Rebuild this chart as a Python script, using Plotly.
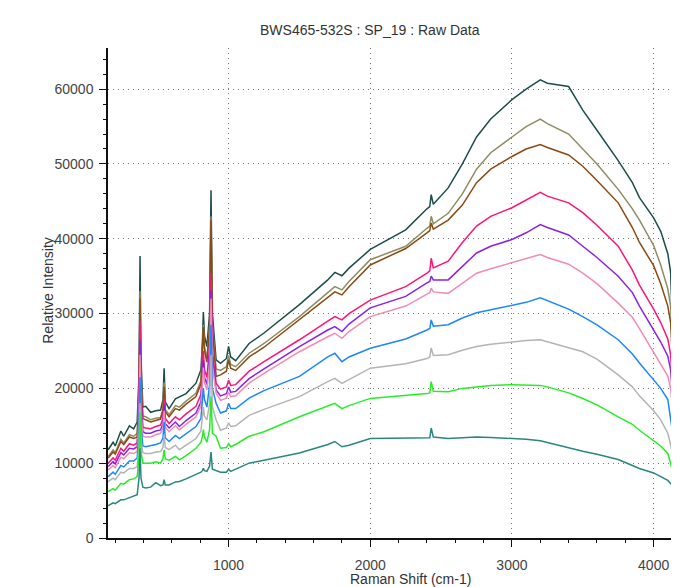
import plotly.graph_objects as go

# Raman shift positions (cm-1), shared by all spectra
raman_shift = [150, 185, 200, 240, 260, 300, 330, 355, 368, 375,
               382, 395, 415, 450, 486, 520, 537, 545, 553, 580,
               625, 653, 700, 770, 805, 815, 822, 830, 847, 866,
               876, 886, 912, 943, 985, 1000, 1015, 1050, 1145, 1250,
               1500, 1700, 1750, 1800, 1850, 2000, 2250, 2400, 2420, 2430,
               2445, 2550, 2650, 2750, 2850, 3000, 3100, 3200, 3250, 3400,
               3500, 3600, 3750, 3850, 3900, 4000, 4050, 4100, 4120, 4135,
               4150, 4179]

spec_dark_teal = [11800, 12800, 12300, 14300, 13600, 15000, 14600, 15500, 22000, 37700,
                  24000, 17500, 17600, 16800, 17000, 17100, 18500, 22700, 18200, 17300,
                  18600, 18900, 19300, 20700, 22500, 26000, 30200, 27000, 25600, 30000,
                  46500, 30000, 23800, 23350, 24000, 25600, 24200, 23700, 26000, 27400,
                  31200, 34500, 35500, 35050, 36070, 38570, 41200, 44000, 44300, 45900,
                  44600, 46800, 50000, 53600, 56000, 58600, 60000, 61250, 60800, 60350,
                  57200, 54500, 50450, 47500, 45500, 42800, 41000, 38000, 35500, 27000,
                  20000, 17500]

spec_olive = [10900, 11800, 11400, 13200, 12700, 13800, 13600, 14000, 20000, 33000,
              22000, 16300, 16200, 15800, 16000, 16100, 17300, 20800, 17200, 16500,
              17700, 17500, 18300, 19350, 21000, 24500, 28500, 25500, 24000, 28500,
              43000, 28500, 22600, 22400, 22900, 24400, 23200, 22900, 24700, 26000,
              29600, 32800, 33600, 33170, 34300, 37200, 39000, 41400, 41700, 43000,
              42000, 43400, 46000, 49300, 51500, 53600, 55000, 56000, 55400, 54000,
              52000, 50000, 46600, 44000, 42500, 39100, 36500, 33300, 31000, 24500,
              19000, 16500]

spec_brown = [10700, 11500, 11200, 12900, 12500, 13500, 13300, 13500, 19000, 32000,
              21000, 16000, 15800, 15500, 15700, 15900, 17000, 20200, 16900, 16200,
              17300, 17100, 17900, 18900, 20600, 24000, 28200, 25000, 23500, 28000,
              42500, 28000, 21600, 21800, 22300, 23800, 22700, 22400, 24200, 25500,
              29200, 32200, 32900, 32500, 33600, 36500, 38700, 40800, 41100, 42100,
              41300, 42500, 44500, 47500, 49300, 51000, 52000, 52600, 52200, 51200,
              49700, 47800, 44800, 41500, 39500, 36400, 34000, 31000, 28800, 23000,
              17500, 15500]

spec_crimson = [10000, 10700, 10400, 12000, 11600, 12600, 12400, 12700, 18000, 29000,
                19500, 14800, 14700, 14600, 14900, 15100, 16000, 18600, 16000, 15300,
                16200, 15800, 16600, 17600, 19200, 22000, 25000, 22500, 21500, 25500,
                35400, 25000, 20700, 19900, 20200, 21100, 20400, 20500, 22300, 23570,
                26500, 29000, 29600, 29150, 30000, 31800, 33600, 35400, 35700, 37400,
                36100, 37000, 39500, 41700, 43000, 44150, 45200, 46200, 45700, 44800,
                43500, 41800, 39000, 35800, 33800, 30600, 28800, 26600, 24500, 20000,
                15500, 14000]

spec_purple = [9550, 10200, 9900, 11400, 11100, 12000, 11900, 12200, 17000, 26500,
               18500, 14200, 14000, 14000, 14300, 14450, 15300, 17800, 15300, 14700,
               15500, 14900, 15700, 16700, 18200, 21000, 23800, 21500, 20500, 24500,
               33100, 24000, 19800, 19000, 19300, 20200, 19500, 19600, 21300, 22600,
               25580, 27800, 28260, 27600, 28600, 30760, 32300, 34100, 34300, 35000,
               34500, 34500, 36300, 38100, 39000, 39900, 40800, 41900, 41500, 40500,
               39000, 37500, 35000, 32800, 31000, 27900, 26200, 24300, 22500, 18500,
               14500, 13000]

spec_light_pink = [9100, 9700, 9400, 10800, 10600, 11400, 11300, 11550, 16000, 24500,
                   17000, 13600, 13500, 13500, 13800, 14000, 14800, 17000, 14800, 14200,
                   15000, 14450, 15200, 16200, 17600, 20200, 22800, 20800, 19800, 23500,
                   32000, 23000, 19350, 18400, 18700, 19500, 18900, 19000, 20700, 22000,
                   24900, 26900, 27370, 26700, 27600, 29600, 31000, 32600, 32800, 33400,
                   32900, 32700, 34000, 35400, 36000, 36800, 37300, 37900, 37500, 36600,
                   35400, 34000, 31400, 29500, 28000, 24800, 23300, 21650, 20000, 17000,
                   13800, 12500]

spec_blue = [8200, 8800, 8500, 9700, 9500, 10300, 10300, 10700, 14500, 21500,
             15000, 12300, 12200, 12300, 12500, 12700, 13400, 15500, 13400, 12900,
             13700, 13300, 13900, 14900, 16000, 18200, 20000, 18500, 17500, 20500,
             28500, 20000, 18000, 16700, 17000, 18000, 17300, 17300, 18700, 19700,
             21600, 24200, 24700, 23570, 24200, 25360, 26600, 27800, 28000, 29150,
             28300, 28500, 29400, 30100, 30500, 31000, 31500, 32100, 31700, 30600,
             29600, 28500, 26500, 24600, 23400, 21100, 20000, 18500, 16000, 13500,
             12000, 11000]

spec_gray = [7550, 8000, 7800, 8800, 8700, 9300, 9300, 9550, 12500, 18000,
             13000, 11400, 11300, 11300, 11500, 11550, 12100, 13800, 12100, 11800,
             12400, 11800, 12400, 13300, 14300, 16000, 17500, 16300, 15800, 18000,
             24500, 17500, 15800, 14400, 14700, 15400, 14900, 15000, 16400, 17200,
             18900, 20900, 21340, 20670, 21200, 22700, 23300, 24000, 24200, 25400,
             24400, 24500, 25100, 25600, 25900, 26250, 26400, 26500, 26250, 25500,
             24900, 23900, 21800, 20200, 19000, 17000, 15800, 14000, 12500, 11200,
             10500, 9800]

spec_green = [6200, 6600, 6400, 7300, 7200, 7800, 7900, 8200, 11000, 16800,
              11500, 10000, 10000, 10000, 10200, 10000, 10600, 11800, 10600, 10400,
              10900, 10450, 11000, 12000, 12800, 13500, 14500, 13500, 12800, 14500,
              18900, 14000, 13600, 12000, 12100, 12600, 12200, 12500, 13600, 14200,
              16200, 17700, 18000, 17300, 17700, 18660, 19000, 19300, 19400, 20900,
              19600, 19550, 20000, 20200, 20400, 20500, 20500, 20400, 20200, 19400,
              18650, 17800, 16200, 15200, 14400, 13000, 12300, 11300, 10000, 8500,
              7800, 7300]

spec_teal = [4300, 4700, 4600, 5100, 5100, 5400, 5600, 5800, 8000, 12000,
             8000, 6800, 6700, 6800, 7400, 7000, 7100, 7800, 7100, 7100,
             7500, 7550, 7900, 8450, 8800, 9000, 9300, 9000, 8900, 9600,
             11500, 9200, 9000, 8800, 8800, 9200, 8900, 9200, 10000, 10400,
             11350, 12500, 12900, 12200, 12400, 13300, 13300, 13300, 13400, 14700,
             13500, 13300, 13450, 13500, 13450, 13300, 13200, 13000, 12750, 12100,
             11600, 11200, 10500, 9700, 9300, 8700, 8200, 7700, 7300, 6800,
             5500, 4600]

series = [
    (spec_dark_teal, "#1d4d4a"),
    (spec_olive, "#8e8c62"),
    (spec_brown, "#8a4a14"),
    (spec_crimson, "#ff1577"),
    (spec_purple, "#8a22ea"),
    (spec_light_pink, "#f28cb2"),
    (spec_blue, "#1e86ff"),
    (spec_gray, "#b4b4b4"),
    (spec_green, "#26ee26"),
    (spec_teal, "#2a877e"),
]

x_ticks = [1000, 2000, 3000, 4000]
y_ticks = [0, 10000, 20000, 30000, 40000, 50000, 60000]

fig = go.Figure()
for vals, col in series:
    fig.add_trace(go.Scatter(x=raman_shift, y=vals, mode="lines",
                             line=dict(color=col, width=1.5),
                             showlegend=False, hoverinfo="skip"))

XR = [149, 4179]
YR = [0, 65500]
grid_dash = "1px,4px"
tick_font = dict(family="Liberation Sans, Arial, sans-serif", size=14, color="#444")

fig.update_layout(
    width=671, height=579,
    margin=dict(l=100, r=0, t=40, b=49),
    paper_bgcolor="white", plot_bgcolor="white",
    font=dict(family="Liberation Sans, Arial, sans-serif", size=14, color="#444"),
    showlegend=False,
    xaxis=dict(range=XR, tickvals=x_ticks, ticktext=[str(v) for v in x_ticks],
               ticks="outside", ticklen=7, tickwidth=1.2, tickcolor="#111",
               showline=True, linecolor="#111", linewidth=1.5, mirror=False,
               showgrid=True, gridcolor="#777", griddash=grid_dash, gridwidth=1,
               zeroline=False, automargin=False, ticklabelstandoff=6,
               minor=dict(dtick=200, tick0=0, ticks="outside", ticklen=3,
                          tickcolor="#111", tickwidth=1.2, showgrid=False),
               tickfont=tick_font),
    xaxis2=dict(range=XR, overlaying="x", anchor="y", side="bottom",
                tickvals=x_ticks, ticks="inside", ticklen=7, tickwidth=1.2,
                tickcolor="#111", showline=True, linecolor="#111", linewidth=1.5,
                mirror="ticks", showticklabels=False, showgrid=False, zeroline=False,
                automargin=False,
                minor=dict(dtick=200, tick0=0, ticks="inside", ticklen=3,
                           tickcolor="#111", tickwidth=1.2, showgrid=False)),
    yaxis=dict(range=YR, tickvals=y_ticks, ticktext=[str(v) for v in y_ticks],
               ticks="outside", ticklen=7, tickwidth=1.2, tickcolor="#111",
               showline=True, linecolor="#111", linewidth=1.5, mirror=False,
               showgrid=True, gridcolor="#777", griddash=grid_dash, gridwidth=1,
               zeroline=False, ticklabelstandoff=3, automargin=False,
               minor=dict(dtick=2000, tick0=0, ticks="outside", ticklen=3,
                          tickcolor="#111", tickwidth=1.2, showgrid=False),
               tickfont=tick_font),
    yaxis2=dict(range=YR, overlaying="y", anchor="x", side="left",
                tickvals=y_ticks, ticks="inside", ticklen=7, tickwidth=1.2,
                tickcolor="#111", showline=False, showticklabels=False,
                showgrid=False, zeroline=False, automargin=False,
                minor=dict(dtick=2000, tick0=0, ticks="inside", ticklen=3,
                           tickcolor="#111", tickwidth=1.2, showgrid=False)),
    annotations=[
        dict(text="BWS465-532S : SP_19 : Raw Data", xref="paper", yref="paper",
             x=0.459, y=1, yanchor="bottom", yshift=8, showarrow=False,
             font=dict(size=14, color="#333")),
        dict(text="Raman Shift (cm-1)", xref="paper", yref="paper",
             x=0.529, y=0, yanchor="top", yshift=-31, showarrow=False,
             font=dict(size=14, color="#333")),
        dict(text="Relative Intensity", xref="paper", yref="paper",
             x=-0.124, y=0.505, textangle=-90, showarrow=False,
             font=dict(size=14, color="#333")),
    ],
)

fig.write_html("out.html")
